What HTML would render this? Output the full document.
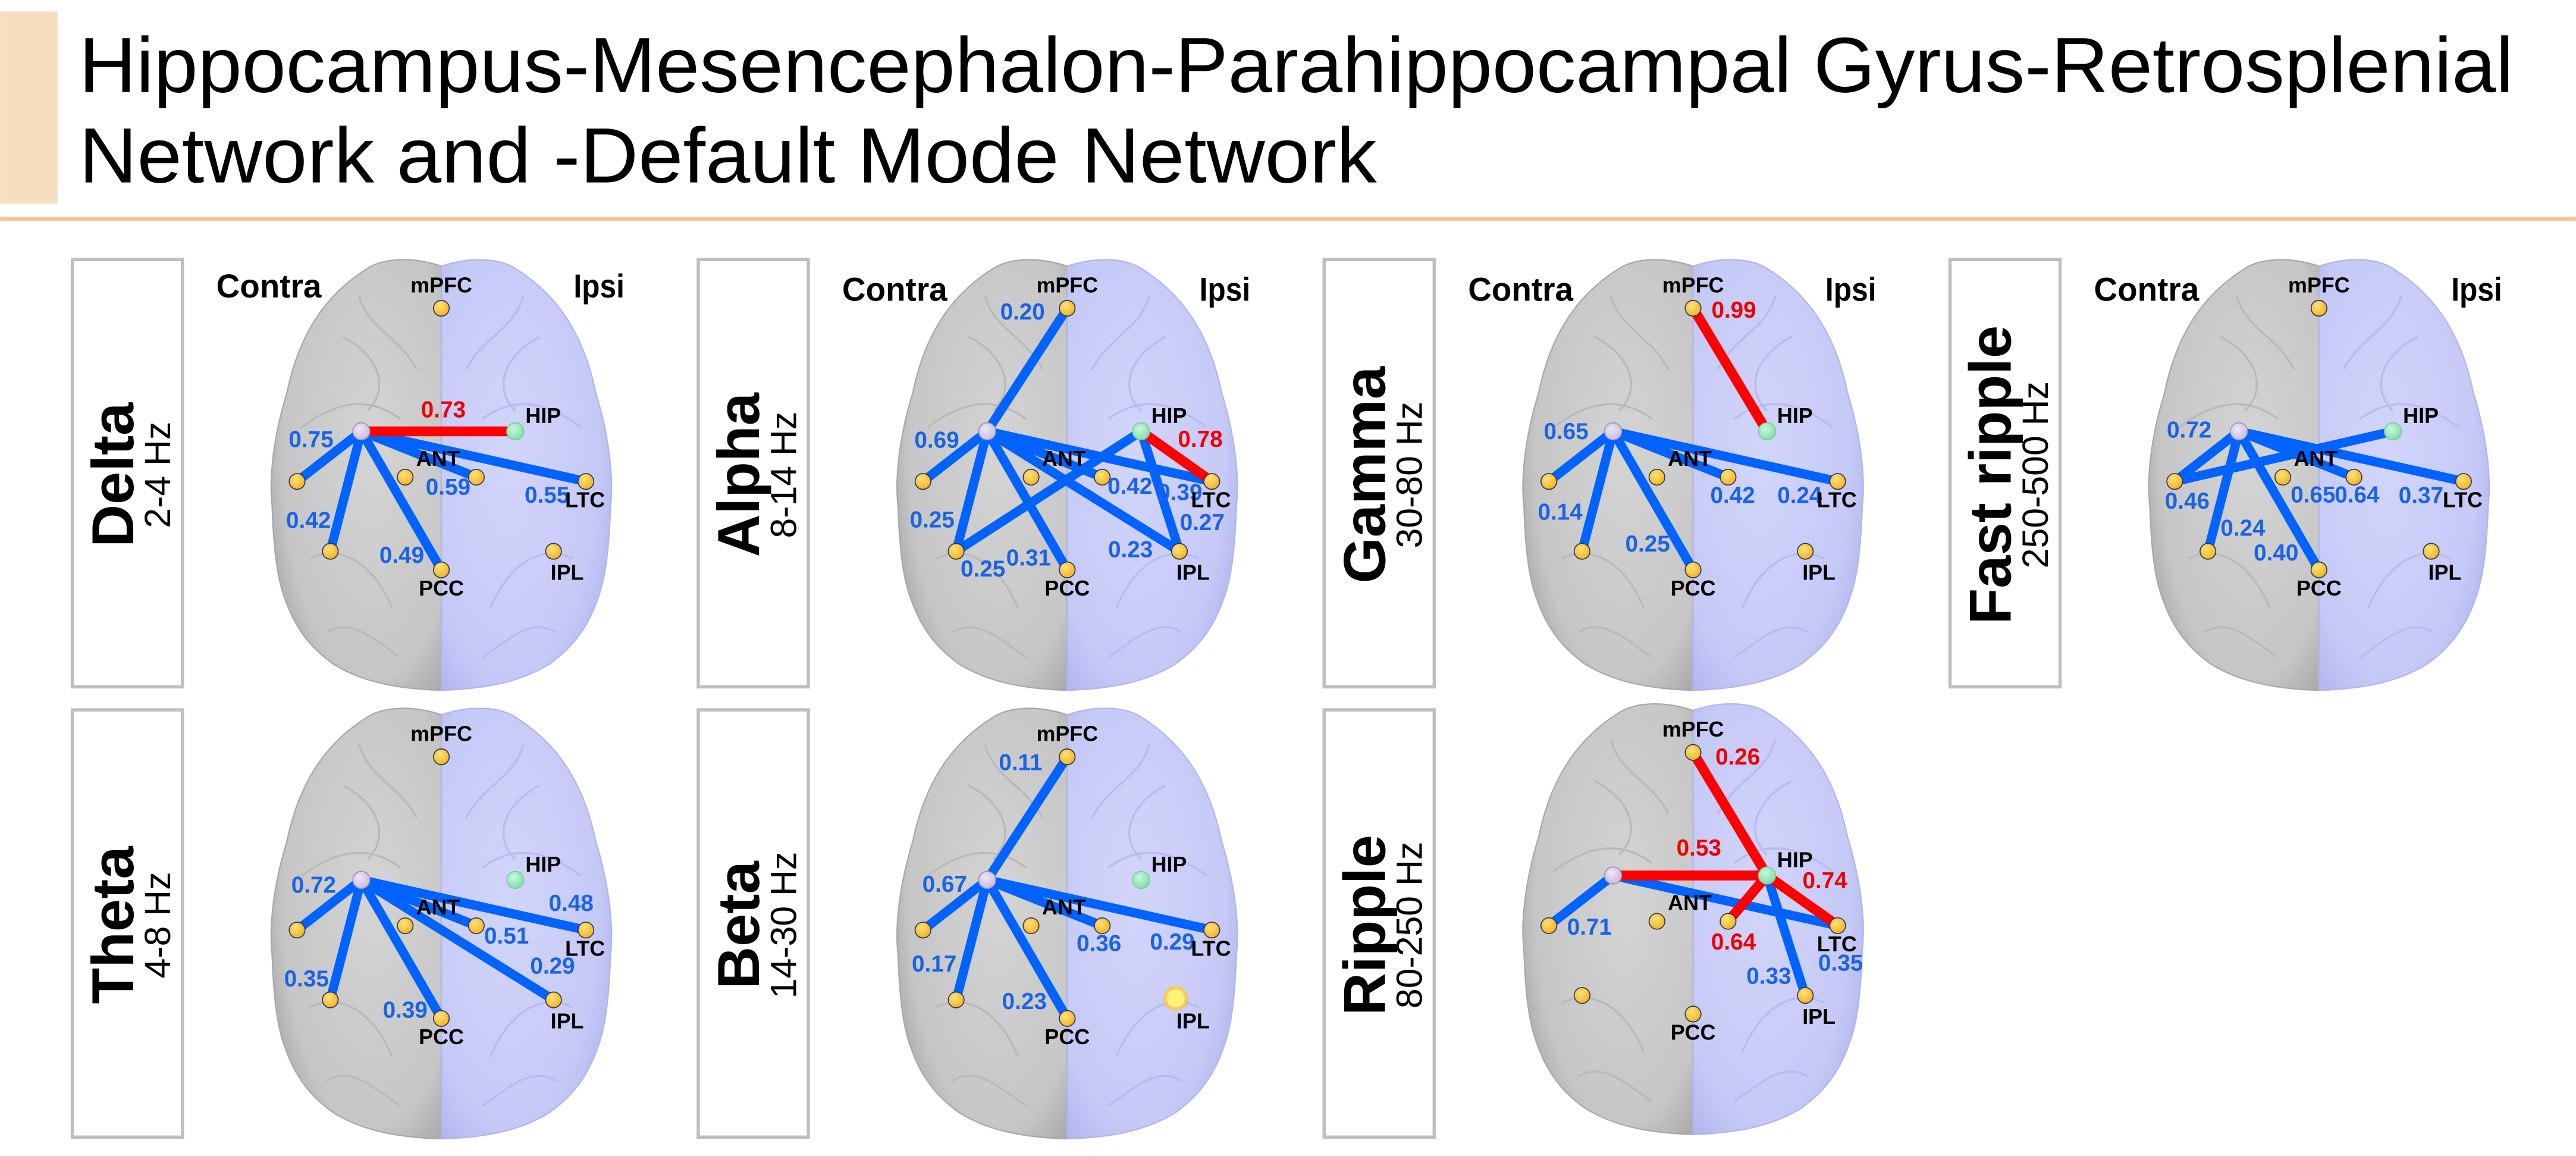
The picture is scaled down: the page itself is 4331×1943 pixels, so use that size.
<!DOCTYPE html>
<html><head><meta charset="utf-8"><style>
html,body{margin:0;padding:0;background:#fff;}
svg{display:block;}
text{font-family:"Liberation Sans",Arial,sans-serif;}
.n{font-weight:bold;font-size:14px;text-anchor:middle;fill:#1a63e8;}
.r{font-weight:bold;font-size:14px;text-anchor:middle;fill:#f00000;}
.l{font-weight:bold;font-size:13px;text-anchor:middle;fill:#000;}
.b{stroke:#0062ff;stroke-width:5.6;fill:none;}
.rd{stroke:#ff0000;stroke-width:6;fill:none;}
.hd{font-weight:bold;font-size:20px;text-anchor:middle;fill:#000;}
.big{font-weight:bold;font-size:36px;text-anchor:middle;fill:#000;}
.sm{font-size:22px;text-anchor:middle;fill:#000;}
</style></head><body>
<svg width="4331" height="1943" viewBox="0 0 1568 703.5" xmlns="http://www.w3.org/2000/svg">
<defs>
<radialGradient id="gl" cx="0.6" cy="0.45" r="0.7"><stop offset="0" stop-color="#d4d4d4"/><stop offset="0.75" stop-color="#c6c6c6"/><stop offset="1" stop-color="#a4a4a4"/></radialGradient>
<radialGradient id="gr" cx="0.6" cy="0.45" r="0.7"><stop offset="0" stop-color="#d2d5fa"/><stop offset="0.75" stop-color="#c5c9f6"/><stop offset="1" stop-color="#adb2ee"/></radialGradient>
<radialGradient id="gy" cx="0.4" cy="0.35" r="0.7"><stop offset="0" stop-color="#ffe27a"/><stop offset="1" stop-color="#efb21c"/></radialGradient>
<radialGradient id="gg" cx="0.4" cy="0.35" r="0.7"><stop offset="0" stop-color="#c8f7dc"/><stop offset="1" stop-color="#7edca6"/></radialGradient>
<radialGradient id="gp" cx="0.4" cy="0.35" r="0.7"><stop offset="0" stop-color="#efe6f6"/><stop offset="1" stop-color="#c9b8de"/></radialGradient>
<path id="hemi" d="M0,162 C-18,156 -36,157 -46,164 C-68,178 -86,200 -94,239 C-102,265 -105,290 -103,308 C-102,335 -100,352 -95,365 C-87,388 -74,398 -66,404 C-50,414 -30,419 -2,420 L0,420 Z"/>
<g id="brain">
<use href="#hemi" fill="url(#gl)" stroke="#a8a8a8" stroke-width="0.8"/>
<use href="#hemi" transform="scale(-1,1)" fill="url(#gr)" stroke="#b0b5ee" stroke-width="0.8"/>
<path d="M-60,205 C-40,215 -30,235 -45,250 M-85,260 C-65,245 -45,240 -25,255 M-80,340 C-60,330 -40,345 -30,370 M-50,180 C-45,200 -25,205 -15,225 M-70,385 C-55,375 -40,390 -25,400" stroke="#b9b9b9" stroke-width="1.2" fill="none"/>
<path d="M60,205 C40,215 30,235 45,250 M85,260 C65,245 45,240 25,255 M80,340 C60,330 40,345 30,370 M50,180 C45,200 25,205 15,225 M70,385 C55,375 40,390 25,400" stroke="#b6bbf0" stroke-width="1.2" fill="none"/>
</g>
<g id="nodes" stroke="#33335a" stroke-width="0.6">
<circle cx="0" cy="187.6" r="4.8" fill="url(#gy)"/>
<circle cx="-87.8" cy="293" r="4.8" fill="url(#gy)"/>
<circle cx="-22" cy="290.4" r="4.8" fill="url(#gy)"/>
<circle cx="21.3" cy="290.4" r="4.8" fill="url(#gy)"/>
<circle cx="88" cy="293" r="4.8" fill="url(#gy)"/>
<circle cx="-67.6" cy="335.5" r="4.8" fill="url(#gy)"/>
<circle cx="68.3" cy="335.5" r="4.8" fill="url(#gy)"/>
<circle cx="0" cy="346.8" r="4.8" fill="url(#gy)"/>
<circle cx="-48.7" cy="262.5" r="5.2" fill="url(#gp)" stroke="#9a90b8"/>
<circle cx="45" cy="262.5" r="5.2" fill="url(#gg)" stroke="#7cc99a"/>
</g>
</defs>

<rect x="0" y="7" width="35" height="117" fill="#f5dfc0"/>
<text x="48" y="56" font-size="47.6" textLength="1482" lengthAdjust="spacingAndGlyphs" fill="#000">Hippocampus-Mesencephalon-Parahippocampal Gyrus-Retrosplenial</text>
<text x="48" y="111" font-size="47.6" textLength="790" lengthAdjust="spacingAndGlyphs" fill="#000">Network and -Default Mode Network</text>
<rect x="0" y="132" width="1568" height="2.5" fill="#efc994"/>

<g fill="#fff" stroke="#bfbfbf" stroke-width="2">
<rect x="44" y="158" width="67" height="260"/>
<rect x="425" y="158" width="67" height="260"/>
<rect x="806" y="158" width="67" height="260"/>
<rect x="1187" y="158" width="67" height="260"/>
<rect x="44" y="432" width="67" height="260"/>
<rect x="425" y="432" width="67" height="260"/>
<rect x="806" y="432" width="67" height="260"/>
</g>
<text class="big" transform="translate(81,289) rotate(-90)">Delta</text>
<text class="sm" transform="translate(103.5,289) rotate(-90)">2-4 Hz</text>
<text class="big" transform="translate(462,289) rotate(-90)">Alpha</text>
<text class="sm" transform="translate(484.5,289) rotate(-90)">8-14 Hz</text>
<text class="big" transform="translate(843,289) rotate(-90)">Gamma</text>
<text class="sm" transform="translate(865.5,289) rotate(-90)">30-80 Hz</text>
<text class="big" transform="translate(1224,289) rotate(-90)">Fast ripple</text>
<text class="sm" transform="translate(1246.5,289) rotate(-90)">250-500 Hz</text>
<text class="big" transform="translate(81,563) rotate(-90)">Theta</text>
<text class="sm" transform="translate(103.5,563) rotate(-90)">4-8 Hz</text>
<text class="big" transform="translate(462,563) rotate(-90)">Beta</text>
<text class="sm" transform="translate(484.5,563) rotate(-90)">14-30 Hz</text>
<text class="big" transform="translate(843,563) rotate(-90)">Ripple</text>
<text class="sm" transform="translate(865.5,563) rotate(-90)">80-250 Hz</text>

<g transform="translate(268.6,0)">
<use href="#brain"/>
<path class="b" d="M-48.7,262.5 L-87.8,293 M-48.7,262.5 L-67.6,335.5 M-48.7,262.5 L0,346.8 M-48.7,262.5 L21.3,290.4 M-48.7,262.5 L88,293"/>
<path class="rd" d="M-48.7,262.5 L45,262.5"/>
<use href="#nodes"/>
<text class="r" x="1.2" y="254">0.73</text>
<text class="n" x="-79.3" y="272.1">0.75</text>
<text class="n" x="4.1" y="301.1">0.59</text>
<text class="n" x="64.3" y="306">0.55</text>
<text class="n" x="-80.9" y="321.4">0.42</text>
<text class="n" x="-24.1" y="342.6">0.49</text>
<text class="hd" x="-105" y="181" textLength="64" lengthAdjust="spacingAndGlyphs">Contra</text>
<text class="hd" x="96" y="181" textLength="31" lengthAdjust="spacingAndGlyphs">Ipsi</text>
<text class="l" x="0" y="178">mPFC</text><text class="l" x="62" y="257.5">HIP</text><text class="l" x="-2" y="283.5">ANT</text>
<text class="l" x="87.5" y="308.7">LTC</text><text class="l" x="76.6" y="352.8">IPL</text><text class="l" x="0" y="362.4">PCC</text>
</g>

<g transform="translate(649.6,0)">
<use href="#brain"/>
<path class="b" d="M-48.7,262.5 L0,187.6 M-48.7,262.5 L-87.8,293 M-48.7,262.5 L-67.6,335.5 M-67.6,335.5 L45,262.5 M-48.7,262.5 L0,346.8 M-48.7,262.5 L88,293 M-48.7,262.5 L21.3,290.4 M-48.7,262.5 L68.3,335.5 M45,262.5 L68.3,335.5"/>
<path class="rd" d="M45,262.5 L88,293"/>
<use href="#nodes"/>
<text class="n" x="-27.2" y="194.5">0.20</text>
<text class="n" x="-79.4" y="272.4">0.69</text>
<text class="n" x="-82.2" y="320.9">0.25</text>
<text class="n" x="-51.3" y="350.8">0.25</text>
<text class="n" x="-23.5" y="344.2">0.31</text>
<text class="n" x="68.6" y="304.4">0.39</text>
<text class="n" x="38.2" y="300.6">0.42</text>
<text class="n" x="82.2" y="322.6">0.27</text>
<text class="n" x="38.5" y="339">0.23</text>
<text class="r" x="81" y="271.9">0.78</text>
<text class="hd" x="-105" y="183" textLength="64" lengthAdjust="spacingAndGlyphs">Contra</text>
<text class="hd" x="96" y="183" textLength="31" lengthAdjust="spacingAndGlyphs">Ipsi</text>
<text class="l" x="0" y="178">mPFC</text><text class="l" x="62" y="257.5">HIP</text><text class="l" x="-2" y="283.5">ANT</text>
<text class="l" x="87.5" y="308.7">LTC</text><text class="l" x="76.6" y="352.8">IPL</text><text class="l" x="0" y="362.4">PCC</text>
</g>

<g transform="translate(1030.6,0)">
<use href="#brain"/>
<path class="b" d="M-48.7,262.5 L-87.8,293 M-48.7,262.5 L-67.6,335.5 M-48.7,262.5 L0,346.8 M-48.7,262.5 L21.3,290.4 M-48.7,262.5 L88,293"/>
<path class="rd" d="M0,187.6 L45,262.5"/>
<use href="#nodes"/>
<text class="r" x="24.8" y="193.3">0.99</text>
<text class="n" x="-77.3" y="267.2">0.65</text>
<text class="n" x="-80.9" y="316.2">0.14</text>
<text class="n" x="-27.7" y="335.6">0.25</text>
<text class="n" x="24.1" y="306.2">0.42</text>
<text class="n" x="64.9" y="306.2">0.24</text>
<text class="hd" x="-105" y="183" textLength="64" lengthAdjust="spacingAndGlyphs">Contra</text>
<text class="hd" x="96" y="183" textLength="31" lengthAdjust="spacingAndGlyphs">Ipsi</text>
<text class="l" x="0" y="178">mPFC</text><text class="l" x="62" y="257.5">HIP</text><text class="l" x="-2" y="283.5">ANT</text>
<text class="l" x="87.5" y="308.7">LTC</text><text class="l" x="76.6" y="352.8">IPL</text><text class="l" x="0" y="362.4">PCC</text>
</g>

<g transform="translate(1411.6,0)">
<use href="#brain"/>
<path class="b" d="M-48.7,262.5 L-87.8,293 M-87.8,293 L45,262.5 M-48.7,262.5 L-67.6,335.5 M-48.7,262.5 L0,346.8 M-48.7,262.5 L21.3,290.4 M-48.7,262.5 L88,293"/>
<use href="#nodes"/>
<text class="n" x="-79" y="266.3">0.72</text>
<text class="n" x="-80.2" y="309.6">0.46</text>
<text class="n" x="-46.3" y="326.1">0.24</text>
<text class="n" x="-26.1" y="341.1">0.40</text>
<text class="n" x="-3.6" y="305.8">0.65</text>
<text class="n" x="23.2" y="305.8">0.64</text>
<text class="n" x="62.1" y="306.2">0.37</text>
<text class="hd" x="-105" y="183" textLength="64" lengthAdjust="spacingAndGlyphs">Contra</text>
<text class="hd" x="96" y="183" textLength="31" lengthAdjust="spacingAndGlyphs">Ipsi</text>
<text class="l" x="0" y="178">mPFC</text><text class="l" x="62" y="257.5">HIP</text><text class="l" x="-2" y="283.5">ANT</text>
<text class="l" x="87.5" y="308.7">LTC</text><text class="l" x="76.6" y="352.8">IPL</text><text class="l" x="0" y="362.4">PCC</text>
</g>

<g transform="translate(268.6,273)">
<use href="#brain"/>
<path class="b" d="M-48.7,262.5 L-87.8,293 M-48.7,262.5 L-67.6,335.5 M-48.7,262.5 L0,346.8 M-48.7,262.5 L21.3,290.4 M-48.7,262.5 L88,293 M-48.7,262.5 L68.3,335.5"/>
<use href="#nodes"/>
<text class="n" x="-77.7" y="270.2">0.72</text>
<text class="n" x="-82.1" y="327.3">0.35</text>
<text class="n" x="-22" y="346.3">0.39</text>
<text class="n" x="39.7" y="301.3">0.51</text>
<text class="n" x="79" y="281.4">0.48</text>
<text class="n" x="67.7" y="319.5">0.29</text>
<text class="l" x="0" y="178">mPFC</text><text class="l" x="62" y="257.5">HIP</text><text class="l" x="-2" y="283.5">ANT</text>
<text class="l" x="87.5" y="308.7">LTC</text><text class="l" x="76.6" y="352.8">IPL</text><text class="l" x="0" y="362.4">PCC</text>
</g>

<g transform="translate(649.6,273)">
<use href="#brain"/>
<path class="b" d="M-48.7,262.5 L0,187.6 M-48.7,262.5 L-87.8,293 M-48.7,262.5 L-67.6,335.5 M-48.7,262.5 L0,346.8 M-48.7,262.5 L21.3,290.4 M-48.7,262.5 L88,293"/>
<use href="#nodes"/>
<circle cx="66" cy="334.5" r="6.5" fill="#fff27a" stroke="#f5c860" stroke-width="2"/>
<text class="n" x="-28.4" y="195.7">0.11</text>
<text class="n" x="-74.6" y="269.8">0.67</text>
<text class="n" x="-81" y="318.3">0.17</text>
<text class="n" x="-26.1" y="341.1">0.23</text>
<text class="n" x="19.3" y="305.7">0.36</text>
<text class="n" x="64" y="304.8">0.29</text>
<text class="l" x="0" y="178">mPFC</text><text class="l" x="62" y="257.5">HIP</text><text class="l" x="-2" y="283.5">ANT</text>
<text class="l" x="87.5" y="308.7">LTC</text><text class="l" x="76.6" y="352.8">IPL</text><text class="l" x="0" y="362.4">PCC</text>
</g>

<g transform="translate(1030.6,270.3)">
<use href="#brain"/>
<path class="b" d="M-48.7,262.5 L-87.8,293 M-48.7,262.5 L88,293 M45,262.5 L68.3,335.5"/>
<path class="rd" d="M0,187.6 L45,262.5 M-48.7,262.5 L45,262.5 M45,262.5 L88,293 M45,262.5 L21.3,290.4"/>
<use href="#nodes"/>
<text class="r" x="27.2" y="195">0.26</text>
<text class="r" x="3.5" y="250.4">0.53</text>
<text class="r" x="80.2" y="270.3">0.74</text>
<text class="r" x="24.6" y="307.5">0.64</text>
<text class="n" x="-63.1" y="298.5">0.71</text>
<text class="n" x="46.1" y="328.3">0.33</text>
<text class="n" x="89.8" y="320.5">0.35</text>
<text class="l" x="0" y="178">mPFC</text><text class="l" x="62" y="257.5">HIP</text><text class="l" x="-2" y="283.5">ANT</text>
<text class="l" x="87.5" y="308.7">LTC</text><text class="l" x="76.6" y="352.8">IPL</text><text class="l" x="0" y="362.4">PCC</text>
</g>
</svg>
</body></html>
